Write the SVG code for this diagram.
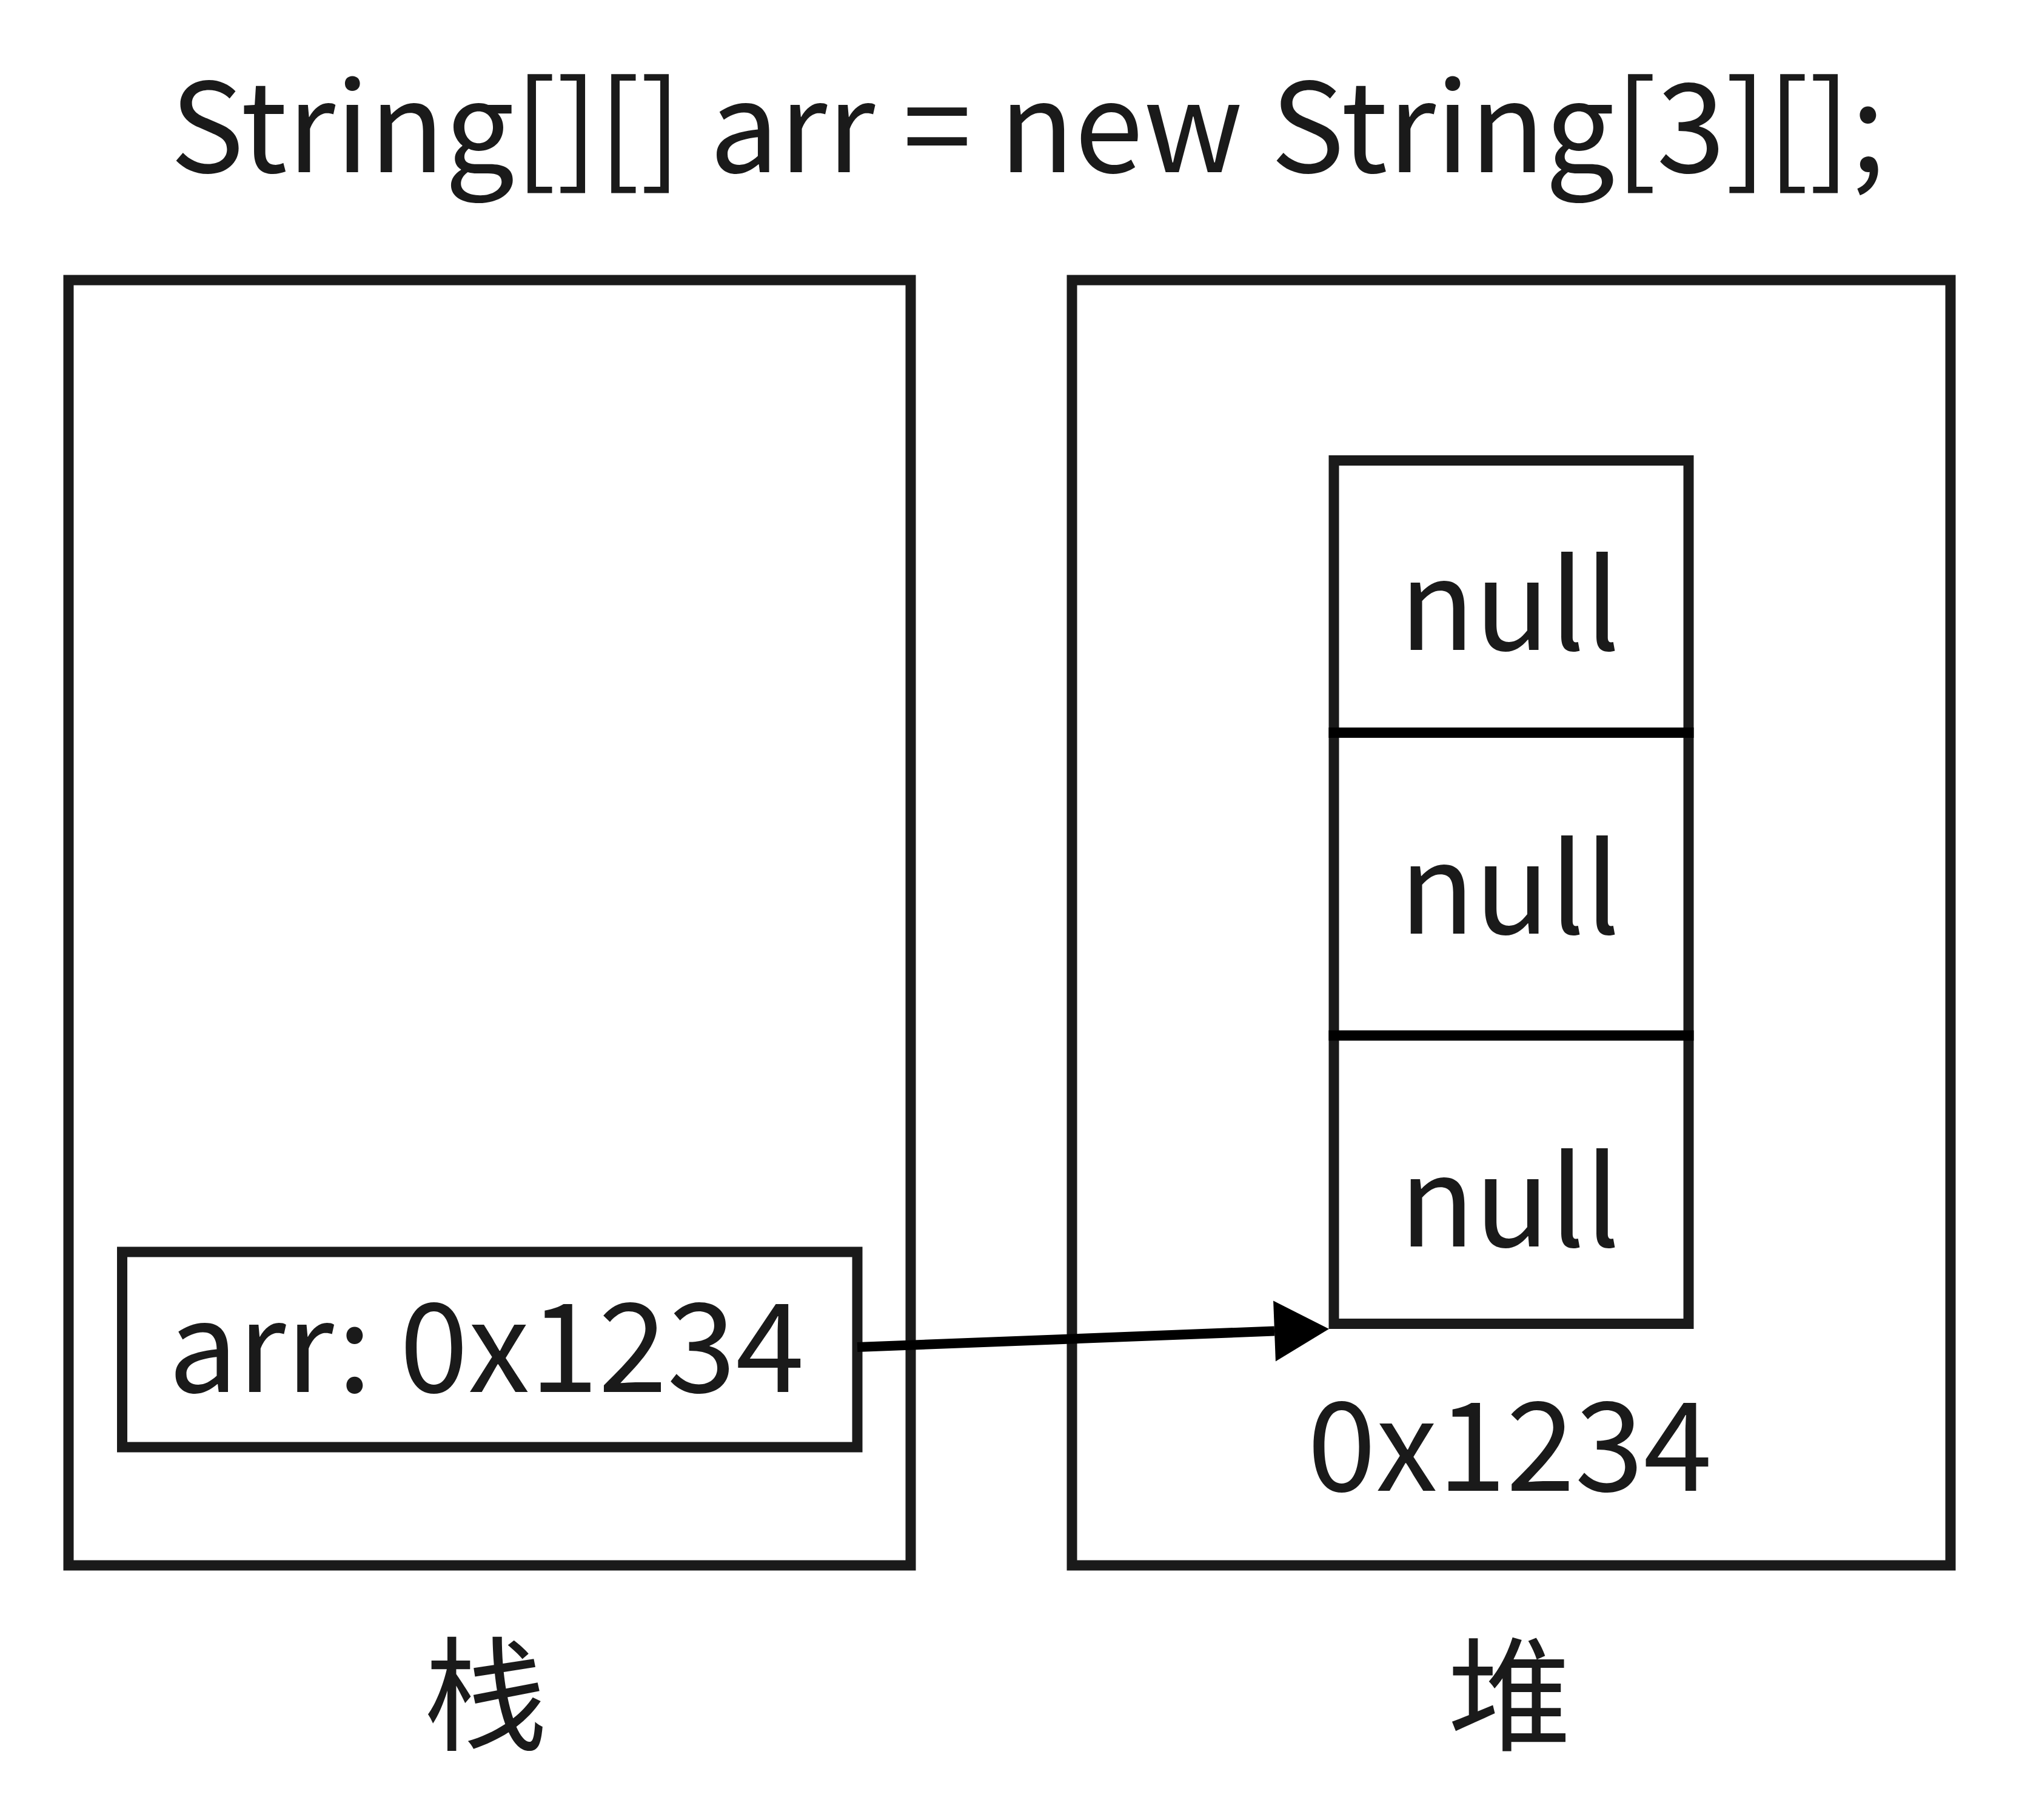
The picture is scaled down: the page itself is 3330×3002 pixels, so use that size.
<svg xmlns="http://www.w3.org/2000/svg" width="3330" height="3002" viewBox="0 0 3330 3002">
<style>
.box{fill:none;stroke:#1a1a1a;stroke-width:17}
.div{stroke:#000;stroke-width:17}
.t{font-family:"Noto Sans CJK SC","Noto Sans",sans-serif;font-size:204px;fill:#1a1a1a;text-anchor:middle}
.conn{stroke:#000;stroke-width:16;fill:none}
</style>
<defs>
<marker id="ah" markerUnits="userSpaceOnUse" markerWidth="92" markerHeight="102" refX="0" refY="50" orient="auto" overflow="visible">
<path d="M0,0 L90,50 L0,100 Z" fill="#000"/>
</marker>
</defs>
<rect width="3330" height="3002" fill="#fff"/>
<text class="t" x="1695" y="284">String[][] arr = new String[3][];</text>
<g id="stack">
<rect class="box" x="113" y="462" width="1389" height="2120"/>
<text class="t" x="801" y="2872">栈</text>
</g>
<g id="heap">
<rect class="box" x="1768" y="462" width="1449" height="2120"/>
<text class="t" x="2490" y="2872">堆</text>
</g>
<g id="arr">
<rect class="box" x="201.5" y="2065" width="1212.5" height="322"/>
<text class="t" x="802" y="2296">arr: 0x1234</text>
</g>
<g id="array">
<rect class="box" x="2200" y="759.5" width="585" height="1424"/>
<line class="div" x1="2191.5" y1="1208.5" x2="2793.5" y2="1208.5"/>
<line class="div" x1="2191.5" y1="1708" x2="2793.5" y2="1708"/>
<text class="t" x="2490" y="1072">null</text>
<text class="t" x="2490" y="1540">null</text>
<text class="t" x="2490" y="2056">null</text>
<text class="t" x="2490" y="2459">0x1234</text>
</g>
<g id="connectors">
<line class="conn" x1="1414" y1="2222" x2="2102" y2="2195.5" marker-end="url(#ah)"/>
</g>
</svg>
